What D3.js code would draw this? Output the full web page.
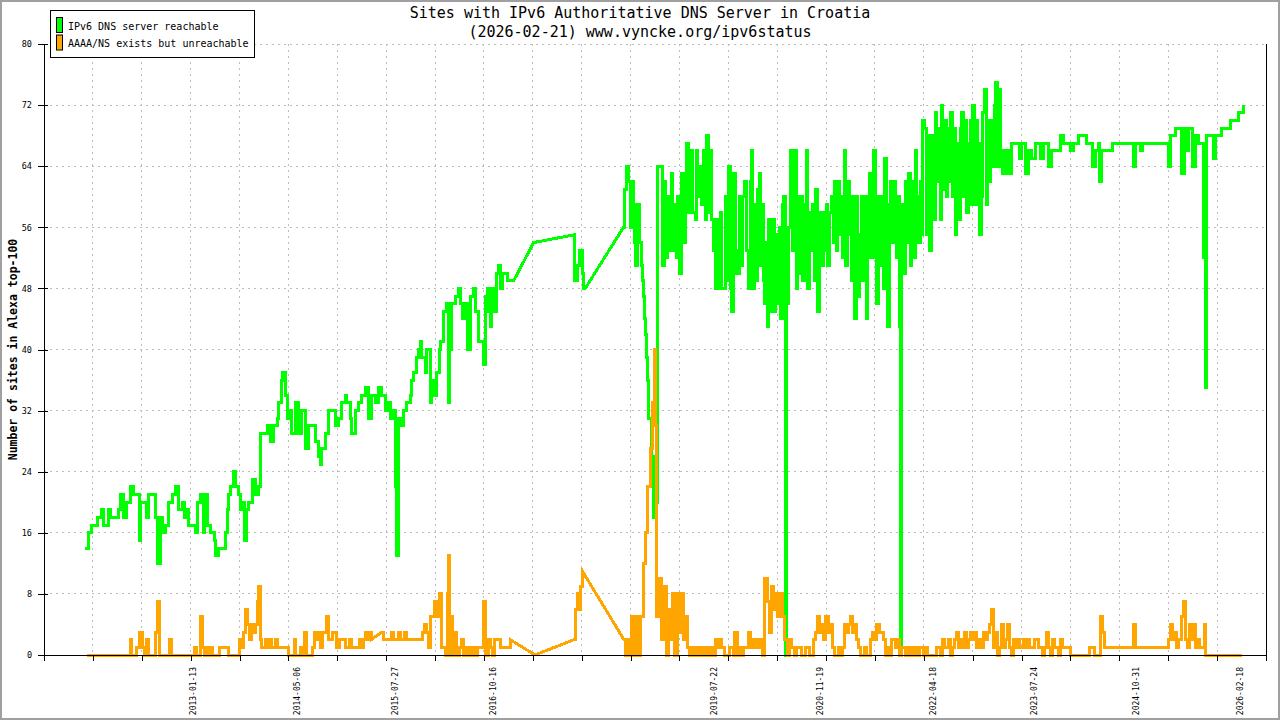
<!DOCTYPE html>
<meta charset="utf-8">
<style>
body { margin: 0; background: #fff; }
svg { display: block; }
text { font-family: "DejaVu Sans Mono", monospace; fill: #000; }
.grid line { stroke: #bdbdbd; stroke-dasharray: 2,4; shape-rendering: crispEdges; }
.axis path, .axis line { stroke: #000; fill: none; shape-rendering: crispEdges; }
.line { fill: none; stroke-width: 3; shape-rendering: crispEdges; }
</style>
<body>
<script src="https://d3js.org/d3.v7.min.js"></script>
<script>

var title = "Sites with IPv6 Authoritative DNS Server in Croatia",
    subtitle = "(2026-02-21) www.vyncke.org/ipv6status",
    yLabel = "Number of sites in Alexa top-100";

var seriesNames = ["IPv6 DNS server reachable", "AAAA/NS exists but unreachable"];
var seriesColors = ["#00ff00", "#ffa500"];

var xDomain = ["2011-03-06", "2026-06-15"];
var dateLabels = ["2013-01-13", "2014-05-06", "2015-07-27", "2016-10-16", "2019-07-22",
                  "2020-11-19", "2022-04-18", "2023-07-24", "2024-10-31", "2026-02-18"];
var yTicks = [0, 8, 16, 24, 32, 40, 48, 56, 64, 72, 80];

// [decimal year, number of sites]
var reachable = [
[2011.691,14],[2011.733,16],[2011.775,17],[2011.838,17],[2011.841,18],[2011.900,19],[2011.916,17],[2011.979,19],
[2012.004,18],[2012.091,18],[2012.104,19],[2012.129,21],[2012.166,18],[2012.213,20],[2012.254,22],[2012.291,21],
[2012.338,21],[2012.366,15],[2012.379,20],[2012.420,20],[2012.454,18],[2012.479,21],[2012.538,21],[2012.566,18],
[2012.595,12],[2012.629,18],[2012.650,16],[2012.691,17],[2012.733,20],[2012.775,21],[2012.816,22],[2012.854,19],
[2012.900,20],[2012.929,18],[2012.963,19],[2012.979,17],[2013.041,17],[2013.066,16],[2013.091,20],[2013.129,21],
[2013.163,16],[2013.179,21],[2013.213,17],[2013.254,16],[2013.304,15],[2013.316,13],[2013.358,14],[2013.420,14],
[2013.441,16],[2013.463,19],[2013.483,21],[2013.504,22],[2013.545,24],[2013.566,22],[2013.608,21],[2013.629,19],
[2013.663,20],[2013.679,15],[2013.704,19],[2013.733,20],[2013.775,23],[2013.816,21],[2013.858,22],[2013.879,29],
[2013.920,29],[2013.963,30],[2014.004,28],[2014.041,30],[2014.088,31],[2014.104,33],[2014.138,36],[2014.158,37],
[2014.191,34],[2014.213,31],[2014.254,32],[2014.275,29],[2014.316,33],[2014.358,29],[2014.400,32],[2014.441,27],
[2014.483,30],[2014.525,30],[2014.566,28],[2014.608,26],[2014.629,25],[2014.650,27],[2014.691,29],[2014.733,32],
[2014.775,32],[2014.816,30],[2014.858,31],[2014.900,33],[2014.941,34],[2014.963,33],[2015.004,31],[2015.025,29],
[2015.066,32],[2015.108,33],[2015.150,34],[2015.191,35],[2015.233,31],[2015.275,34],[2015.316,33],[2015.358,35],
[2015.400,34],[2015.441,32],[2015.483,33],[2015.504,31],[2015.545,32],[2015.566,22],[2015.579,13],[2015.608,31],
[2015.629,30],[2015.670,32],[2015.713,33],[2015.754,34],[2015.775,36],[2015.795,37],[2015.838,39],[2015.858,40],
[2015.879,41],[2015.900,39],[2015.941,37],[2015.963,40],[2016.004,33],[2016.025,36],[2016.045,34],[2016.088,37],
[2016.120,40],[2016.129,41],[2016.170,45],[2016.213,46],[2016.233,33],[2016.245,40],[2016.275,46],[2016.316,47],
[2016.358,48],[2016.379,46],[2016.413,44],[2016.441,46],[2016.470,40],[2016.504,47],[2016.545,48],[2016.566,45],
[2016.608,41],[2016.629,41],[2016.670,38],[2016.691,47],[2016.713,48],[2016.733,45],[2016.754,43],[2016.775,48],
[2016.795,45],[2016.829,50],[2016.858,51],[2016.879,48],[2016.900,50],[2016.941,50],[2016.970,49],[2017.045,49],
[2017.295,54],[2017.795,55],[2017.804,49],[2017.829,49],[2017.845,51],[2017.870,53],[2017.891,53],[2017.908,50],
[2017.920,48],[2017.941,48],[2018.420,56],[2018.429,61],[2018.454,62],[2018.463,64],[2018.483,62],[2018.504,56],
[2018.525,62],[2018.545,59],[2018.558,54],[2018.575,51],[2018.600,59],[2018.616,54],[2018.641,51],[2018.658,49],
[2018.670,47],[2018.683,44],[2018.695,42],[2018.713,39],[2018.723,36],[2018.736,31],[2018.769,26],[2018.790,21],
[2018.798,18],[2018.823,20],[2018.841,64],[2018.891,64],[2018.913,51],[2018.933,62],[2018.950,52],[2018.975,60],
[2018.991,53],[2019.016,63],[2019.033,53],[2019.058,59],[2019.079,52],[2019.100,60],[2019.116,50],[2019.141,63],
[2019.170,54],[2019.191,60],[2019.213,67],[2019.233,58],[2019.266,66],[2019.288,58],[2019.316,57],[2019.329,66],
[2019.350,60],[2019.379,64],[2019.400,59],[2019.420,66],[2019.441,57],[2019.463,68],[2019.483,58],[2019.504,66],
[2019.525,57],[2019.545,53],[2019.566,48],[2019.588,57],[2019.608,48],[2019.629,58],[2019.650,48],[2019.691,60],
[2019.713,49],[2019.733,64],[2019.754,48],[2019.775,45],[2019.795,63],[2019.816,53],[2019.838,50],[2019.870,60],
[2019.888,51],[2019.913,60],[2019.929,62],[2019.954,53],[2019.983,48],[2020.004,62],[2020.016,66],[2020.038,48],
[2020.058,59],[2020.079,49],[2020.100,61],[2020.120,63],[2020.138,51],[2020.154,59],[2020.170,49],[2020.183,46],
[2020.204,54],[2020.220,43],[2020.238,57],[2020.263,45],[2020.288,57],[2020.308,45],[2020.325,55],[2020.345,46],
[2020.366,56],[2020.388,44],[2020.404,59],[2020.420,60],[2020.439,0],[2020.463,46],[2020.483,56],[2020.504,66],
[2020.516,66],[2020.538,53],[2020.554,66],[2020.579,48],[2020.595,60],[2020.616,50],[2020.641,60],[2020.663,49],
[2020.683,59],[2020.704,66],[2020.720,48],[2020.745,58],[2020.766,53],[2020.788,59],[2020.804,49],[2020.825,61],
[2020.845,45],[2020.866,58],[2020.888,51],[2020.913,58],[2020.933,53],[2020.954,59],[2020.975,51],[2020.995,58],
[2021.016,60],[2021.038,54],[2021.058,62],[2021.079,53],[2021.100,62],[2021.120,55],[2021.141,60],[2021.158,52],
[2021.179,66],[2021.200,51],[2021.225,62],[2021.245,55],[2021.266,49],[2021.288,60],[2021.308,44],[2021.329,60],
[2021.350,47],[2021.370,55],[2021.391,60],[2021.413,49],[2021.433,60],[2021.454,44],[2021.475,59],[2021.491,63],
[2021.513,52],[2021.533,60],[2021.550,66],[2021.566,52],[2021.588,46],[2021.608,60],[2021.629,51],[2021.650,60],
[2021.670,48],[2021.683,65],[2021.704,51],[2021.725,43],[2021.741,59],[2021.758,62],[2021.775,54],[2021.795,62],
[2021.816,55],[2021.838,52],[2021.858,60],[2021.875,43],[2021.883,0],[2021.900,59],[2021.908,50],[2021.941,62],
[2021.963,54],[2021.983,63],[2022.004,51],[2022.025,62],[2022.050,52],[2022.066,66],[2022.088,60],[2022.108,54],
[2022.129,62],[2022.150,55],[2022.158,70],[2022.183,69],[2022.204,55],[2022.225,68],[2022.245,53],[2022.266,68],
[2022.283,63],[2022.295,57],[2022.316,71],[2022.338,62],[2022.358,69],[2022.379,57],[2022.391,72],[2022.413,61],
[2022.433,70],[2022.454,60],[2022.475,69],[2022.495,62],[2022.513,71],[2022.534,60],[2022.545,69],[2022.566,55],
[2022.588,67],[2022.608,57],[2022.629,69],[2022.650,71],[2022.670,60],[2022.691,70],[2022.713,58],[2022.733,67],
[2022.754,70],[2022.775,59],[2022.788,72],[2022.808,59],[2022.829,70],[2022.850,67],[2022.870,55],[2022.891,60],
[2022.913,71],[2022.929,74],[2022.954,59],[2022.970,70],[2022.995,62],[2023.013,70],[2023.038,64],[2023.058,72],
[2023.075,75],[2023.095,64],[2023.116,74],[2023.138,66],[2023.163,63],[2023.191,66],[2023.233,63],[2023.275,67],
[2023.338,67],[2023.370,65],[2023.400,67],[2023.441,63],[2023.483,66],[2023.525,65],[2023.566,67],[2023.629,65],
[2023.670,67],[2023.733,64],[2023.775,66],[2023.879,68],[2023.920,67],[2024.004,66],[2024.045,67],[2024.088,67],
[2024.108,68],[2024.191,68],[2024.213,67],[2024.275,67],[2024.288,64],[2024.316,66],[2024.358,67],[2024.370,62],
[2024.400,66],[2024.504,66],[2024.538,67],[2024.775,67],[2024.795,64],[2024.816,67],[2024.879,66],[2024.913,67],
[2025.213,67],[2025.233,64],[2025.254,68],[2025.295,68],[2025.316,69],[2025.379,69],[2025.400,63],[2025.429,69],
[2025.463,66],[2025.483,69],[2025.513,69],[2025.538,64],[2025.566,68],[2025.608,67],[2025.663,67],[2025.670,52],
[2025.691,35],[2025.713,68],[2025.775,68],[2025.795,65],[2025.816,68],[2025.879,68],[2025.900,69],[2026.004,69],
[2026.013,70],[2026.088,70],[2026.108,71],[2026.150,71],[2026.170,72]
];

var unreachable = [
[2011.710,0],[2012.251,0],[2012.261,2],[2012.271,0],[2012.329,1],[2012.374,3],[2012.404,1],[2012.429,0],
[2012.454,2],[2012.476,0],[2012.529,0],[2012.566,3],[2012.599,7],[2012.616,0],[2012.729,0],[2012.746,2],
[2012.766,0],[2013.029,0],[2013.054,1],[2013.079,0],[2013.129,5],[2013.154,1],[2013.179,0],[2013.204,1],
[2013.229,0],[2013.254,1],[2013.279,0],[2013.374,1],[2013.460,1],[2013.476,0],[2013.604,0],[2013.614,2],
[2013.639,1],[2013.666,3],[2013.691,6],[2013.716,4],[2013.741,2],[2013.766,4],[2013.791,3],[2013.816,4],
[2013.841,7],[2013.860,9],[2013.879,2],[2013.891,1],[2013.941,2],[2013.966,1],[2013.991,2],[2014.016,1],
[2014.073,2],[2014.098,1],[2014.200,1],[2014.226,0],[2014.279,0],[2014.304,2],[2014.323,0],[2014.379,1],
[2014.404,0],[2014.429,3],[2014.454,0],[2014.504,0],[2014.529,1],[2014.554,3],[2014.579,2],[2014.604,3],
[2014.629,1],[2014.659,3],[2014.685,3],[2014.710,5],[2014.736,2],[2014.786,3],[2014.838,1],[2014.864,2],
[2014.915,2],[2014.941,1],[2014.991,2],[2015.016,1],[2015.116,2],[2015.141,1],[2015.166,2],[2015.191,3],
[2015.216,2],[2015.241,3],[2015.266,2],[2015.399,3],[2015.425,2],[2015.526,3],[2015.551,2],[2015.604,3],
[2015.629,2],[2015.679,3],[2015.704,2],[2015.879,2],[2015.909,3],[2015.935,4],[2015.960,3],[2015.986,1],
[2016.011,5],[2016.038,5],[2016.063,7],[2016.088,5],[2016.116,8],[2016.139,1],[2016.191,0],[2016.216,8],
[2016.235,13],[2016.248,0],[2016.266,5],[2016.285,0],[2016.316,3],[2016.335,0],[2016.366,1],[2016.391,2],
[2016.416,0],[2016.441,1],[2016.466,0],[2016.491,1],[2016.516,0],[2016.541,1],[2016.566,0],[2016.591,1],
[2016.675,7],[2016.700,0],[2016.726,2],[2016.754,1],[2016.779,0],[2016.804,2],[2016.854,2],[2016.879,1],
[2016.954,1],[2017.004,2],[2017.313,0],[2017.798,2],[2017.817,6],[2017.841,8],[2017.860,6],[2017.879,9],
[2017.904,11],[2018.426,2],[2018.441,0],[2018.466,2],[2018.491,0],[2018.519,5],[2018.548,0],[2018.579,5],
[2018.606,0],[2018.633,5],[2018.668,12],[2018.697,16],[2018.725,22],[2018.753,27],[2018.779,33],[2018.806,40],
[2018.823,30],[2018.834,5],[2018.876,10],[2018.899,2],[2018.925,9],[2018.954,0],[2018.979,6],[2019.004,2],
[2019.034,8],[2019.061,0],[2019.089,8],[2019.116,3],[2019.141,8],[2019.166,2],[2019.196,5],[2019.224,1],
[2019.241,0],[2019.266,1],[2019.291,0],[2019.316,1],[2019.341,0],[2019.366,1],[2019.391,0],[2019.416,1],
[2019.441,0],[2019.466,1],[2019.491,0],[2019.516,1],[2019.541,0],[2019.572,2],[2019.598,1],[2019.624,2],
[2019.649,1],[2019.679,0],[2019.726,0],[2019.751,1],[2019.776,1],[2019.791,0],[2019.813,3],[2019.841,0],
[2019.866,1],[2019.891,0],[2019.916,1],[2019.954,1],[2019.979,3],[2020.004,1],[2020.029,2],[2020.054,1],
[2020.079,2],[2020.104,1],[2020.129,2],[2020.159,0],[2020.189,10],[2020.216,7],[2020.241,3],[2020.270,9],
[2020.298,6],[2020.324,8],[2020.351,5],[2020.379,8],[2020.404,5],[2020.433,2],[2020.470,0],[2020.491,2],
[2020.516,1],[2020.554,0],[2020.579,1],[2020.616,1],[2020.641,0],[2020.691,1],[2020.716,1],[2020.741,0],
[2020.773,0],[2020.798,2],[2020.823,3],[2020.849,5],[2020.874,3],[2020.899,4],[2020.925,2],[2020.950,5],
[2020.976,3],[2021.001,4],[2021.026,1],[2021.054,0],[2021.079,0],[2021.104,1],[2021.129,0],[2021.154,1],
[2021.179,4],[2021.204,3],[2021.231,4],[2021.256,5],[2021.281,3],[2021.308,4],[2021.333,2],[2021.358,1],
[2021.384,0],[2021.429,1],[2021.460,0],[2021.485,0],[2021.511,2],[2021.538,3],[2021.563,2],[2021.588,4],
[2021.614,3],[2021.639,3],[2021.665,2],[2021.690,0],[2021.716,1],[2021.741,0],[2021.766,2],[2021.791,2],
[2021.816,1],[2021.841,2],[2021.866,0],[2021.891,1],[2021.916,1],[2021.941,0],[2021.966,1],[2021.991,0],
[2022.016,1],[2022.041,0],[2022.066,1],[2022.091,0],[2022.116,1],[2022.141,1],[2022.166,0],[2022.191,1],
[2022.216,0],[2022.251,0],[2022.304,0],[2022.329,1],[2022.354,1],[2022.379,0],[2022.404,2],[2022.429,1],
[2022.454,1],[2022.479,2],[2022.504,0],[2022.529,1],[2022.558,2],[2022.583,3],[2022.608,1],[2022.633,2],
[2022.658,1],[2022.685,3],[2022.710,1],[2022.735,2],[2022.761,3],[2022.786,2],[2022.811,3],[2022.836,1],
[2022.861,2],[2022.889,1],[2022.915,3],[2022.940,2],[2022.966,3],[2022.991,4],[2023.016,6],[2023.041,1],
[2023.066,3],[2023.091,0],[2023.116,1],[2023.144,4],[2023.169,1],[2023.194,2],[2023.220,4],[2023.245,1],
[2023.270,0],[2023.296,2],[2023.321,1],[2023.346,2],[2023.372,1],[2023.399,1],[2023.424,2],[2023.449,1],
[2023.476,2],[2023.501,1],[2023.526,1],[2023.554,2],[2023.579,2],[2023.604,1],[2023.629,1],[2023.654,0],
[2023.679,1],[2023.704,3],[2023.729,1],[2023.754,0],[2023.779,2],[2023.804,1],[2023.829,1],[2023.854,0],
[2023.884,2],[2023.909,1],[2023.935,1],[2023.960,1],[2023.986,1],[2024.011,0],[2024.241,0],[2024.251,1],
[2024.291,1],[2024.304,0],[2024.366,0],[2024.379,5],[2024.404,3],[2024.429,1],[2024.776,1],[2024.791,4],
[2024.816,1],[2025.210,1],[2025.236,2],[2025.261,4],[2025.286,2],[2025.311,3],[2025.336,1],[2025.361,2],
[2025.389,5],[2025.415,7],[2025.441,2],[2025.466,1],[2025.491,4],[2025.516,2],[2025.541,4],[2025.566,1],
[2025.591,2],[2025.616,1],[2025.670,1],[2025.679,4],[2025.700,0],[2026.154,0]
];

var width = 1280, height = 720,
    margin = {top: 44, right: 14, bottom: 65, left: 44};

var parseDay = d3.utcParse("%Y-%m-%d");

// decimal year -> Date
function toDate(t) {
  var yr = Math.floor(t),
      a = Date.UTC(yr, 0, 1),
      b = Date.UTC(yr + 1, 0, 1);
  return new Date(a + (t - yr) * (b - a));
}

// daily samples of integer counts: hold each value until the next sample,
// but keep straight segments across the long gaps with no measurements
function stepped(s) {
  var out = [s[0]];
  for (var i = 1; i < s.length; i++) {
    if (s[i][0] - s[i - 1][0] < 0.12 && s[i][1] !== s[i - 1][1]) out.push([s[i][0], s[i - 1][1]]);
    out.push(s[i]);
  }
  return out;
}

var x = d3.scaleUtc()
    .domain(xDomain.map(parseDay))
    .range([margin.left, width - margin.right]);

var y = d3.scaleLinear()
    .domain([0, 80])
    .range([height - margin.bottom, margin.top]);

var svg = d3.select("body").append("svg")
    .attr("width", width)
    .attr("height", height);

svg.append("rect")
    .attr("x", 1).attr("y", 1)
    .attr("width", width - 2).attr("height", height - 2)
    .attr("fill", "#fff")
    .attr("stroke", "#a0a0a0")
    .attr("stroke-width", 2);

// 25 equal tick intervals along the time axis
var t0 = x.domain()[0].getTime(), t1 = x.domain()[1].getTime();
var xTicks = d3.range(26).map(function(i) { return new Date(t0 + i * (t1 - t0) / 25); });

// grid
var grid = svg.append("g").attr("class", "grid");
grid.selectAll(".gy").data(yTicks.slice(1)).enter().append("line")
    .attr("x1", margin.left).attr("x2", width - margin.right)
    .attr("y1", function(d) { return y(d); })
    .attr("y2", function(d) { return y(d); });
grid.selectAll(".gx").data(xTicks.slice(1, -1)).enter().append("line")
    .attr("x1", function(d) { return x(d); })
    .attr("x2", function(d) { return x(d); })
    .attr("y1", margin.top).attr("y2", height - margin.bottom);

// data lines
var line = d3.line()
    .x(function(d) { return x(toDate(d[0])); })
    .y(function(d) { return y(d[1]); });

[reachable, unreachable].forEach(function(s, i) {
  svg.append("path")
    .datum(stepped(s))
    .attr("class", "line")
    .attr("stroke", seriesColors[i])
    .attr("d", line);
});

// axes
svg.append("g")
    .attr("class", "axis")
    .attr("transform", "translate(0," + y(0) + ")")
    .call(d3.axisBottom(x).tickValues(xTicks).tickFormat("").tickSize(6).tickSizeOuter(0));

var yAxis = svg.append("g")
    .attr("class", "axis")
    .attr("transform", "translate(" + margin.left + ",0)")
    .call(d3.axisLeft(y).tickValues(yTicks).tickSize(6).tickPadding(6).tickSizeOuter(0));
yAxis.selectAll(".tick line").attr("x1", 4);
yAxis.selectAll(".tick text").style("font-size", "8.5px");

svg.append("line")
    .attr("x1", width - margin.right).attr("x2", width - margin.right)
    .attr("y1", margin.top).attr("y2", y(0))
    .attr("stroke", "#000")
    .style("shape-rendering", "crispEdges");

// date labels
svg.append("g").selectAll("text").data(dateLabels).enter().append("text")
    .attr("transform", function(d) {
      return "translate(" + x(parseDay(d)) + "," + (y(0) + 12) + ") rotate(-90)";
    })
    .attr("text-anchor", "end")
    .attr("dy", "0.35em")
    .style("font-size", "8px")
    .text(function(d) { return d; });

// titles
svg.append("text")
    .attr("x", 640).attr("y", 13)
    .attr("text-anchor", "middle")
    .attr("dominant-baseline", "central")
    .style("font-size", "15px")
    .text(title);
svg.append("text")
    .attr("x", 640).attr("y", 32)
    .attr("text-anchor", "middle")
    .attr("dominant-baseline", "central")
    .style("font-size", "15px")
    .text(subtitle);

svg.append("text")
    .attr("transform", "translate(13," + ((margin.top + y(0)) / 2) + ") rotate(-90)")
    .attr("text-anchor", "middle")
    .attr("dominant-baseline", "central")
    .style("font-size", "11.5px")
    .style("font-weight", "bold")
    .text(yLabel);

// legend
var legend = svg.append("g");
legend.append("rect")
    .attr("x", 50.5).attr("y", 10.5)
    .attr("width", 204).attr("height", 47)
    .attr("fill", "#fff").attr("stroke", "#000");

seriesNames.forEach(function(name, i) {
  var cy = 25 + i * 17.5;
  legend.append("rect")
    .attr("x", 56.5).attr("y", cy - 7.5)
    .attr("width", 6).attr("height", 15)
    .attr("fill", seriesColors[i]).attr("stroke", "#000");
  legend.append("text")
    .attr("x", 68).attr("y", cy + 1)
    .attr("dominant-baseline", "central")
    .style("font-size", "10px")
    .text(name);
});

</script>
</body>
